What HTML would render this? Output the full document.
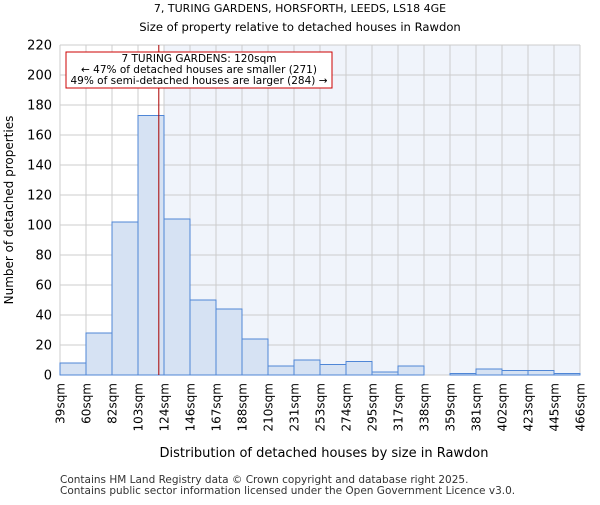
<!DOCTYPE html>
<html><head><meta charset="utf-8"><style>
body{margin:0;background:#fff;}
svg text{font-family:"DejaVu Sans","Liberation Sans",sans-serif;}
</style></head><body>
<svg id="chart" width="600" height="500" xmlns="http://www.w3.org/2000/svg">
<text x="300" y="12" text-anchor="middle" font-size="11">7, TURING GARDENS, HORSFORTH, LEEDS, LS18 4GE</text>
<text x="300" y="31" text-anchor="middle" font-size="11.6">Size of property relative to detached houses in Rawdon</text>
<rect x="60" y="45" width="104" height="330" fill="#ffffff"/>
<rect x="164" y="45" width="416" height="330" fill="#f0f4fb"/>
<g id="grid"></g>
<g id="bars"></g>
<g id="axes"></g>
<text x="324" y="457" text-anchor="middle" font-size="13">Distribution of detached houses by size in Rawdon</text>
<text transform="translate(13,210) rotate(-90)" text-anchor="middle" font-size="12">Number of detached properties</text>
<rect x="66" y="52" width="266" height="36" fill="#fff" stroke="#cc0000" stroke-width="1"/>
<text x="199" y="62" text-anchor="middle" font-size="10.5">7 TURING GARDENS: 120sqm</text>
<text x="199" y="73" text-anchor="middle" font-size="10.5">← 47% of detached houses are smaller (271)</text>
<text x="199" y="84" text-anchor="middle" font-size="10.5">49% of semi-detached houses are larger (284) →</text>
<text x="60" y="483" font-size="10.5" fill="#333">Contains HM Land Registry data © Crown copyright and database right 2025.</text>
<text x="60" y="494" font-size="10.5" fill="#333">Contains public sector information licensed under the Open Government Licence v3.0.</text>
</svg>
<script>
const binLabels=["39sqm","60sqm","82sqm","103sqm","124sqm","146sqm","167sqm","188sqm","210sqm","231sqm","253sqm","274sqm","295sqm","317sqm","338sqm","359sqm","381sqm","402sqm","423sqm","445sqm","466sqm"];
const counts=[8,28,102,173,104,50,44,24,6,10,7,9,2,6,0,1,4,3,3,1];
const yTicks=[0,20,40,60,80,100,120,140,160,180,200,220];
const markerBin=3.8;
const NS="http://www.w3.org/2000/svg";
const X0=60,X1=580,Y0=375,Y1=45,YMAX=220;
const xs=i=>X0+i*(X1-X0)/counts.length;
const ys=v=>Y0-v*(Y0-Y1)/YMAX;
function mk(tag,attrs,parent){const e=document.createElementNS(NS,tag);for(const k in attrs)e.setAttribute(k,attrs[k]);document.getElementById(parent).appendChild(e);return e;}
yTicks.forEach(t=>{
 const l=mk("line",{x1:X0,x2:X1,y1:ys(t),y2:ys(t),stroke:"#cccccc","stroke-width":1},"grid");
 
 
 const tx=mk("text",{x:X0-8,y:ys(t)+4.5,"text-anchor":"end","font-size":"13"},"axes");
 tx.textContent=t;
 
 
});
binLabels.forEach((b,i)=>{
 const l=mk("line",{x1:xs(i),x2:xs(i),y1:Y1,y2:Y0,stroke:"#cccccc","stroke-width":1},"grid");
 
 
 const tx=mk("text",{transform:`translate(${xs(i)+4.5},${Y0+8}) rotate(-90)`,"text-anchor":"end","font-size":"12"},"axes");
 tx.textContent=b;
 
 
});
counts.forEach((c,i)=>{
 const r=mk("rect",{x:xs(i),y:ys(c),width:xs(i+1)-xs(i),height:Y0-ys(c),fill:"#d6e2f3",stroke:"#4f86d6","stroke-width":1},"bars");
 
 
});
const ml=mk("line",{x1:xs(markerBin),x2:xs(markerBin),y1:Y1,y2:Y0,stroke:"#aa0000","stroke-width":1},"bars");


</script>
</body></html>
